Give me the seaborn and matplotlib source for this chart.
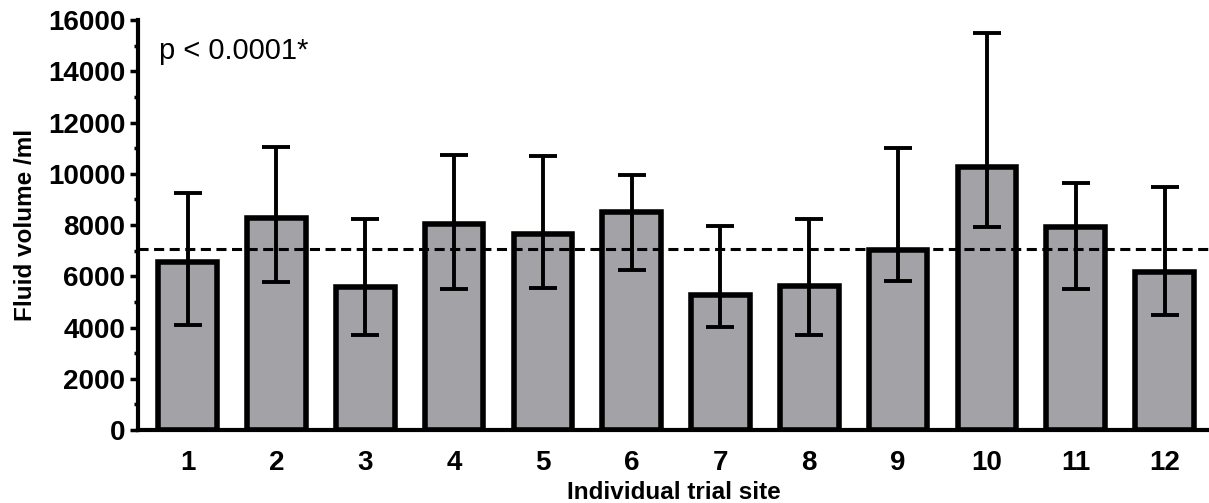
import numpy as np
import pandas as pd
import seaborn as sns
import matplotlib.pyplot as plt
from matplotlib.ticker import MultipleLocator

sns.set_style("ticks")
plt.rcParams['font.family'] = ['Liberation Sans', 'DejaVu Sans']
plt.rcParams['text.color'] = 'black'
plt.rcParams['axes.labelcolor'] = 'black'
plt.rcParams['xtick.color'] = 'black'
plt.rcParams['ytick.color'] = 'black'
plt.rcParams['axes.edgecolor'] = 'black'

# values (median with upper / lower whiskers)
sites = ["1", "2", "3", "4", "5", "6", "7", "8", "9", "10", "11", "12"]
volume = [6570, 8260, 5590, 8030, 7640, 8520, 5270, 5620, 7020, 10280, 7930, 6180]
upper = [9260, 11060, 8230, 10730, 10690, 9950, 7970, 8230, 10990, 15480, 9630, 9500]
lower = [4100, 5790, 3710, 5520, 5550, 6240, 4010, 3710, 5830, 7910, 5500, 4510]
overall = 7060

df = pd.DataFrame({"site": sites, "volume": volume})

fig = plt.figure(figsize=(12.09, 5.03), dpi=100)
ax = fig.add_axes([0.114, 0.145, 0.886, 0.815])

sns.barplot(data=df, x="site", y="volume", color="#a3a2a7", saturation=1,
            width=0.66, edgecolor="black", linewidth=4, errorbar=None, ax=ax)

pos = np.arange(len(sites))
err = [np.array(volume) - np.array(lower), np.array(upper) - np.array(volume)]
ax.errorbar(pos, volume, yerr=err, fmt="none", ecolor="black",
            elinewidth=2.8, capsize=10, capthick=2.8, zorder=5)

ax.axhline(overall, color="black", lw=2.2, ls=(0, (3.3, 1.8)), zorder=6)

ax.set_ylim(0, 16000)
ax.set_xlim(-0.56, 11.5)
ax.yaxis.set_major_locator(MultipleLocator(2000))
ax.yaxis.set_minor_locator(MultipleLocator(1000))
ax.tick_params(axis="y", which="major", length=6, width=2.5, labelsize=20, pad=3)
ax.tick_params(axis="y", which="minor", length=3, width=2.5)
ax.tick_params(axis="x", length=0, labelsize=20, pad=14)
for lab in ax.get_xticklabels() + ax.get_yticklabels():
    lab.set_fontweight("bold")

sns.despine(ax=ax)
ax.spines["left"].set_linewidth(3)
ax.spines["bottom"].set_linewidth(3)

ax.set_xlabel("Individual trial site", fontsize=17.5, fontweight="bold", labelpad=4)
ax.set_ylabel("Fluid volume /ml", fontsize=17.5, fontweight="bold", labelpad=8)

ax.text(0.02, 0.925, "p < 0.0001*", transform=ax.transAxes, fontsize=21,
        ha="left", va="center")

fig.savefig("out.png", dpi=100)
